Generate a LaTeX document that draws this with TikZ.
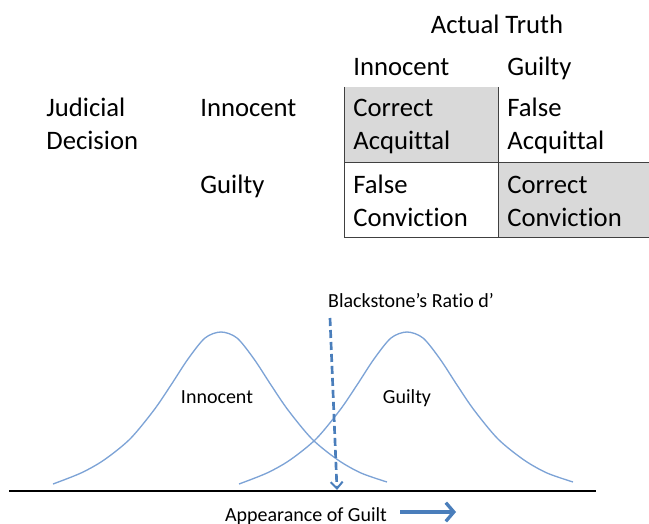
\documentclass[tikz,border=0pt]{standalone}
\usepackage{fontspec}
\setmainfont{Carlito}[Ligatures=CommonOff]
\usetikzlibrary{arrows.meta,positioning}

\definecolor{bellblue}{RGB}{125,163,214}
\definecolor{arrowblue}{RGB}{74,126,187}
\definecolor{cellgray}{RGB}{217,217,217}
\definecolor{linegray}{RGB}{64,64,64}

\begin{document}
\begin{tikzpicture}[
    x = 0.75pt, % one unit is one pixel
    y = -0.75pt, % y runs downwards
    inner sep = 0pt, % text sits on its coordinate
    semithick % line style
    ]

    \tikzset{
    bigtext/.style = {font=\fontsize{20}{24.75}\selectfont, align=left, anchor=base west},
    smalltext/.style = {font=\fontsize{15}{18}\selectfont, anchor=base},
    tableline/.style = {linegray, line width=0.75pt},
    bellline/.style = {bellblue, line width=1pt},
    cutline/.style = {arrowblue, line width=2pt, dash pattern=on 6pt off 3pt,
      -{Straight Barb[length=5pt,width=9pt,line width=1.5pt]}},
    guiltarrow/.style = {arrowblue, line width=3.5pt,
      -{Straight Barb[length=6pt,width=14pt,line width=2.5pt]}}
    }
    \useasboundingbox (0,0) rectangle (649,524);

    % table
    \fill[cellgray] (344,87) rectangle (498,162.5);
    \fill[cellgray] (498,162.5) rectangle (649,237);
    \draw[tableline] (344,87) -- (344,237);
    \draw[tableline] (498,87) -- (498,237);
    \draw[tableline] (344,162.5) -- (649,162.5);
    \draw[tableline] (344,237) -- (649,237);

    % base of a two-line node is its last line
    \node[bigtext, anchor=base] (truth) at (497,34) {Actual Truth};
    \node[bigtext] (colinno) at (353,76) {Innocent};
    \node[bigtext] (colguil) at (507,76) {Guilty};
    \node[bigtext] (judicial) at (46,150) {Judicial\\Decision};
    \node[bigtext] (rowinno) at (200,117) {Innocent};
    \node[bigtext] (rowguil) at (200,193) {Guilty};
    \node[bigtext] (corracq) at (353,150) {Correct\\Acquittal};
    \node[bigtext] (falsacq) at (507,150) {False\\Acquittal};
    \node[bigtext] (falscon) at (353,226) {False\\Conviction};
    \node[bigtext] (corrcon) at (507,226) {Correct\\Conviction};

    % the two bell curves
    \foreach \c in {221,407}
      \draw[bellline, shift={(\c,0)}] plot[smooth] coordinates {
        (-168,484) (-140,473) (-117,460) (-91,439) (-67,410) (-50,385)
        (-33,359) (-16,338) (0,332) (16,338) (33,359) (50,385) (67,410)
        (91,439) (117,460) (140,473) (166,482)};

    \node[smalltext] (innolbl) at (217,403) {Innocent};
    \node[smalltext] (guillbl) at (407,403) {Guilty};
    \node[smalltext] (ratio) at (411,307) {Blackstone’s Ratio d’};

    % axis and cut-off
    \coordinate (axleft) at (9,491);
    \coordinate (axright) at (596,491);
    \draw[line width=2pt] (axleft) -- (axright);
    \coordinate (cuttop) at (330,318);
    \coordinate (cutbot) at (337,490);
    \draw[cutline] (cuttop) -- (cutbot);

    \node[smalltext] (appear) at (306,521) {Appearance of Guilt};
    \coordinate (arrstart) at (400,512);
    \coordinate (arrend) at (456,512);
    \draw[guiltarrow] (arrstart) -- (arrend);
\end{tikzpicture}
\end{document}
